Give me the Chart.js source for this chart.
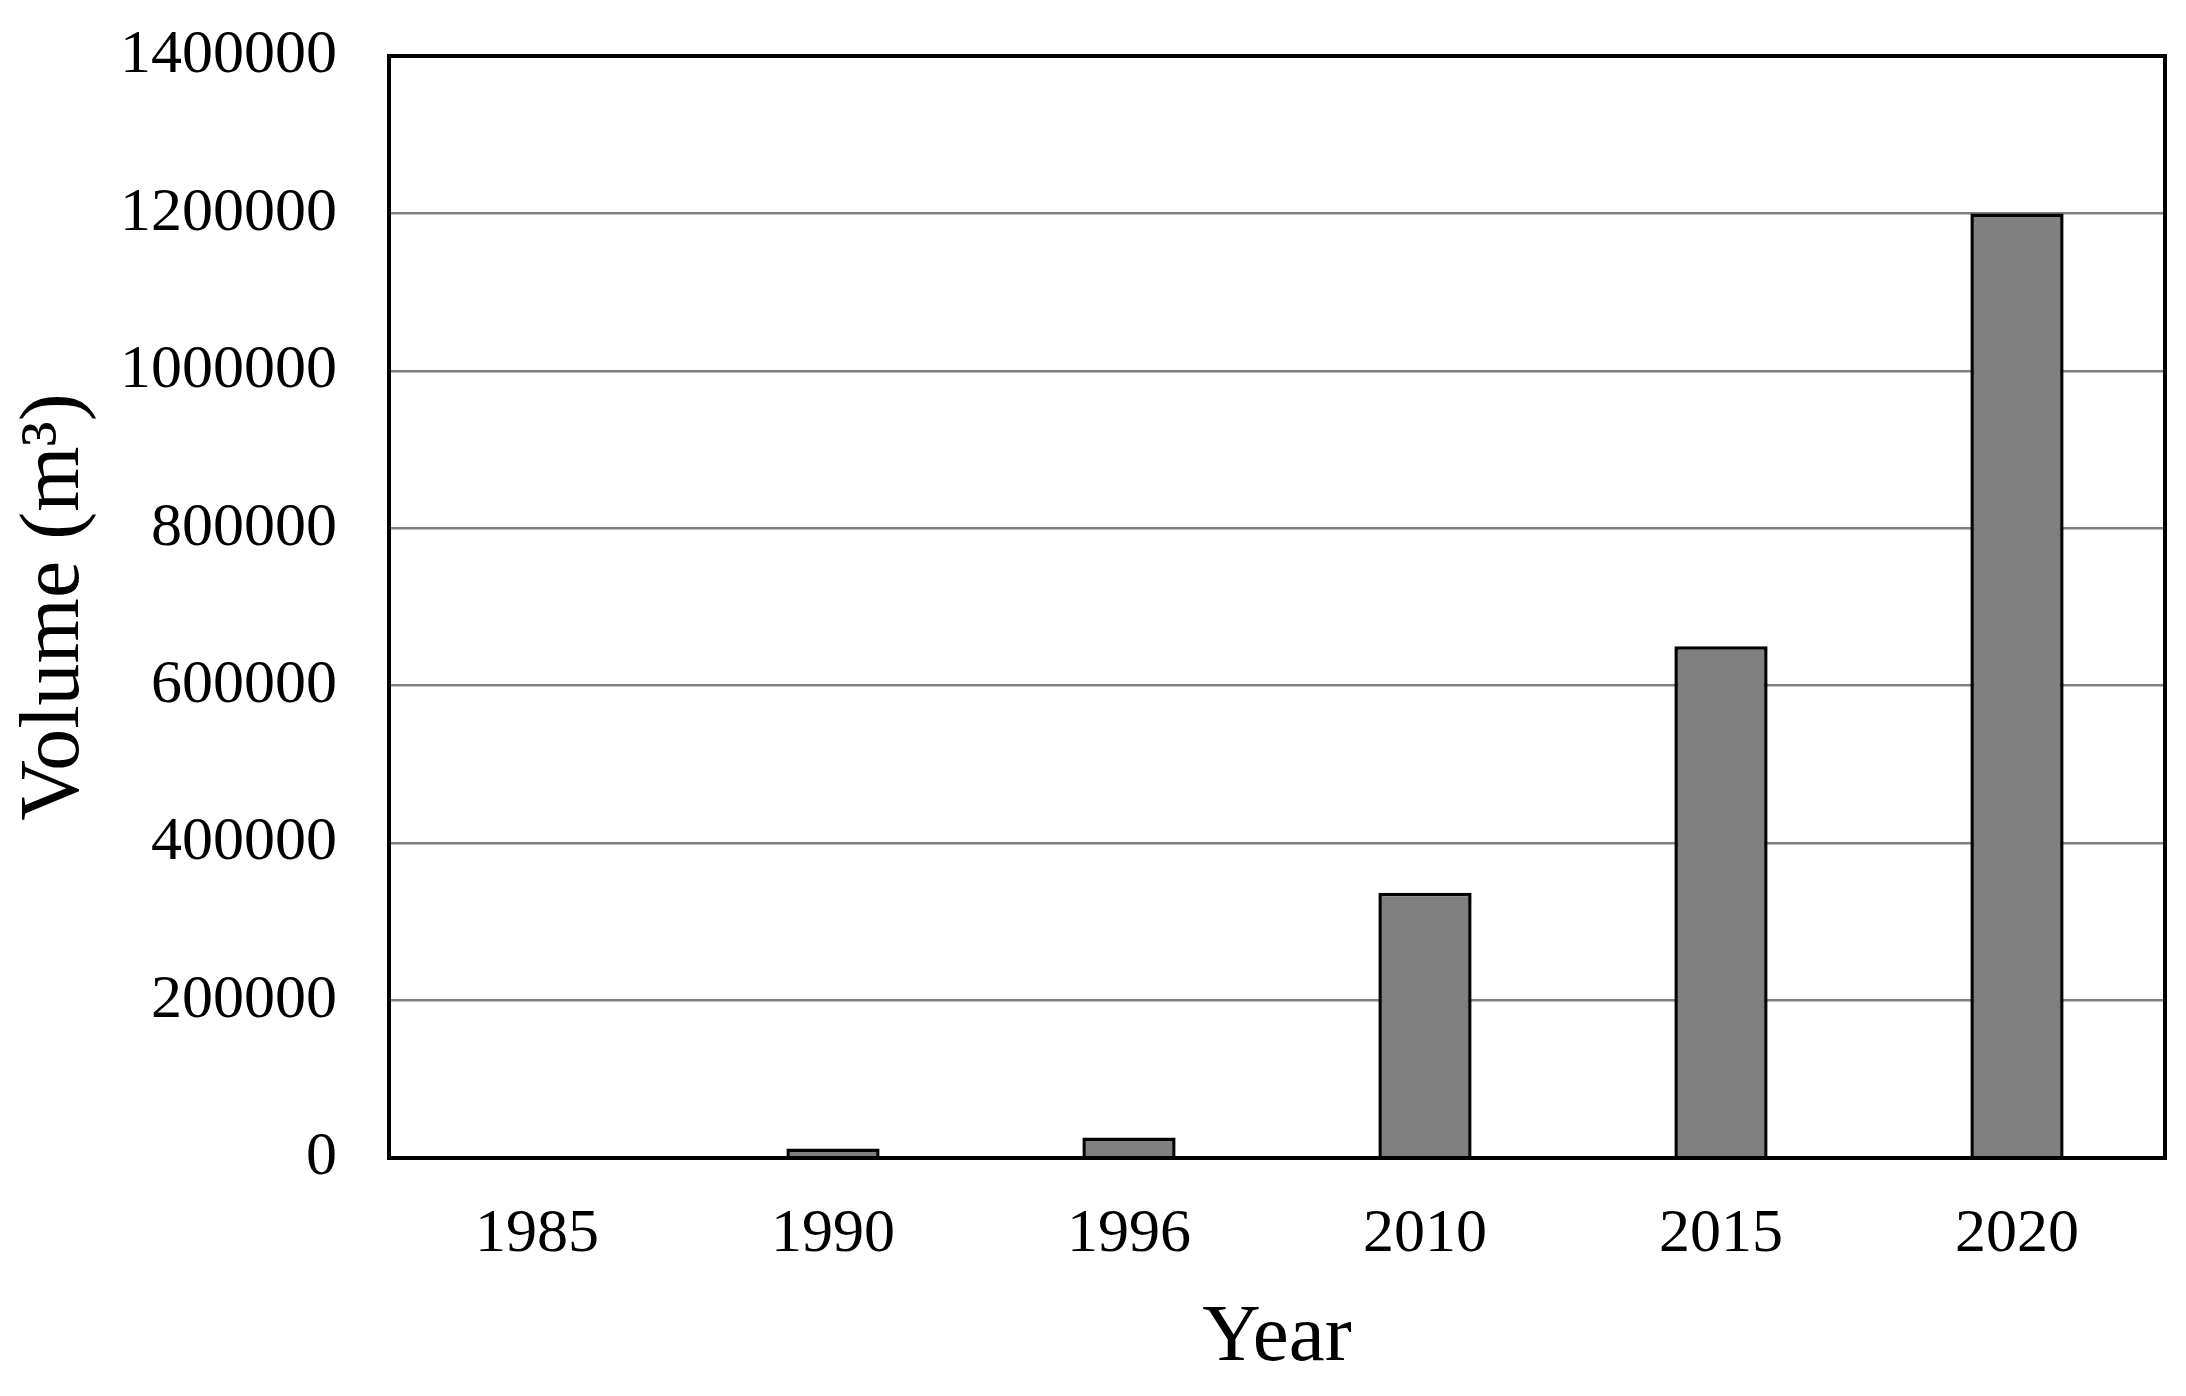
<!DOCTYPE html>
<html>
<head>
<meta charset="utf-8">
<script src="https://cdn.jsdelivr.net/npm/chart.js@4"></script>
<style>
  html, body { margin: 0; padding: 0; background: #fff; }
  #wrap { width: 2186px; height: 1396px; }
</style>
</head>
<body>
<div id="wrap"><canvas id="chart" width="2186" height="1396"></canvas></div>
<script>
// values
const years = ['1985', '1990', '1996', '2010', '2015', '2020'];
const volumes = [0, 12000, 26000, 337000, 650000, 1200000];
const yTicks = [0, 200000, 400000, 600000, 800000, 1000000, 1200000, 1400000];

const serif = "'Liberation Serif', 'Times New Roman', serif";

// box round the whole plot area
const frame = {
  id: 'frame',
  afterDraw(chart) {
    const a = chart.chartArea, ctx = chart.ctx;
    ctx.save();
    ctx.strokeStyle = '#000';
    ctx.lineWidth = 4;
    ctx.strokeRect(a.left, a.top, a.right - a.left, a.bottom - a.top);
    ctx.restore();
  }
};

new Chart(document.getElementById('chart'), {
  type: 'bar',
  data: {
    labels: years,
    datasets: [{
      data: volumes,
      backgroundColor: '#808080',
      borderColor: '#000',
      borderWidth: 3.5,
      barPercentage: 0.315,
      categoryPercentage: 1.0
    }]
  },
  options: {
    responsive: false,
    animation: false,
    devicePixelRatio: 1,
    layout: { padding: { left: 0, top: 56, right: 21, bottom: 0 } },
    plugins: { legend: { display: false }, tooltip: { enabled: false } },
    scales: {
      x: {
        grid: { display: false, drawTicks: false },
        border: { display: false },
        ticks: { color: '#000', font: { family: serif, size: 62 }, padding: 40, maxRotation: 0 },
        title: { display: true, text: 'Year', color: '#000', font: { family: serif, size: 81 }, padding: { top: 0, bottom: 9 } },
        afterFit(s) { s.height = 238; s.paddingLeft = 0; s.paddingRight = 0; }
      },
      y: {
        min: 0,
        max: 1400000,
        afterBuildTicks(s) { s.ticks = yTicks.map(v => ({ value: v })); },
        grid: {
          color: ctx => (ctx.tick && (ctx.tick.value === 0 || ctx.tick.value === 1400000)) ? 'rgba(0,0,0,0)' : '#808080',
          lineWidth: 2.5,
          drawTicks: false
        },
        border: { display: false },
        ticks: { color: '#000', font: { family: serif, size: 62 }, padding: 52, callback: v => String(v) },
        title: { display: true, text: 'Volume (m³)', color: '#000', font: { family: serif, size: 84 }, padding: { top: 6, bottom: 0 } },
        afterFit(s) { s.width = 389; s.paddingTop = 0; s.paddingBottom = 0; }
      }
    }
  },
  plugins: [frame]
});
</script>
</body>
</html>
